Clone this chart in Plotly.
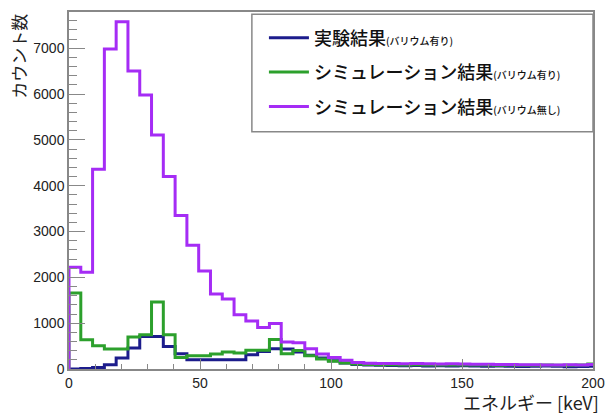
import numpy as np
import plotly.graph_objects as go

bin_width = 4.5  # keV

exp_barium = [0, 10, 35, 94, 240, 457, 710, 710, 492, 333,
              203, 203, 203, 203, 203, 311, 380, 440, 435, 370,
              300, 240, 180, 130, 100, 90, 80, 75, 70, 75,
              65, 70, 65, 70, 65, 60, 65, 60, 55, 60,
              65, 60, 50, 55, 60]
sim_barium = [1656, 638, 508, 436, 436, 697, 747, 1460, 747, 250,
              290, 290, 330, 370, 350, 410, 410, 645, 333, 405,
              290, 220, 170, 130, 110, 100, 95, 95, 90, 95,
              90, 85, 90, 85, 90, 85, 80, 85, 80, 80,
              85, 80, 80, 85, 110]
sim_nobarium = [2220, 2110, 4360, 6980, 7575, 6505, 5980, 5105, 4200, 3350,
                2700, 2140, 1634, 1530, 1183, 1050, 906, 995, 590, 575,
                440, 330, 250, 190, 140, 125, 120, 120, 115, 120,
                115, 110, 115, 110, 105, 105, 100, 100, 95, 95,
                90, 90, 95, 90, 100]

names = ["実験結果<span style='font-size:10px'>(バリウム有り)</span>",
         "シミュレーション結果<span style='font-size:10px'>(バリウム有り)</span>",
         "シミュレーション結果<span style='font-size:10px'>(バリウム無し)</span>"]
colors = ["#1c1c8c", "#2ca02c", "#a52cf5"]

x_title = "エネルギー [keV]"
y_title = "カウント数"
x_ticks = [0, 50, 100, 150, 200]
y_ticks = [0, 1000, 2000, 3000, 4000, 5000, 6000, 7000]

fig = go.Figure()
series = [exp_barium, sim_barium, sim_nobarium]
for i, vals in enumerate(series):
    edges = np.arange(len(vals) + 1) * bin_width
    xs = np.concatenate([[0.0], edges])
    ys = [0] + list(vals) + [vals[-1]]
    fig.add_trace(go.Scatter(x=xs, y=ys, mode="lines", line=dict(shape="hv", color=colors[i], width=3),
                             name=names[i], legendgroup=f"g{i}"))

cjk = "Noto Sans CJK JP"
fig.update_layout(
    width=605, height=414,
    margin=dict(l=69, r=12, t=12, b=45),
    plot_bgcolor="white", paper_bgcolor="white",
    showlegend=True,
    legend=dict(x=0.372, y=0.979, xanchor="left", yanchor="top",
                bgcolor="rgba(0,0,0,0)", borderwidth=0,
                font=dict(family=cjk, size=18, color="#111", weight=500),
                traceorder="grouped", tracegroupgap=8, itemwidth=40),
    xaxis=dict(range=[0, 200], tickvals=x_ticks, ticks="inside", ticklen=10, tickcolor="#888",
               tickwidth=1.2, showline=True, linecolor="#888", linewidth=1.5, mirror=True,
               showgrid=False, zeroline=False, automargin=False,
               minor=dict(dtick=10, ticks="inside", ticklen=5, tickcolor="#888", tickwidth=1.2),
               tickfont=dict(family="Liberation Sans", size=14, color="#222")),
    yaxis=dict(range=[0, 7790], tickvals=y_ticks, ticks="inside", ticklen=16, tickcolor="#888",
               tickwidth=1.2, showline=True, linecolor="#888", linewidth=1.5, mirror=True,
               showgrid=False, zeroline=False, automargin=False,
               minor=dict(dtick=200, ticks="inside", ticklen=8, tickcolor="#888", tickwidth=1.2),
               tickfont=dict(family="Liberation Sans", size=14, color="#222")),
    shapes=[dict(type="rect", xref="paper", yref="paper", x0=0.349, x1=1.0, y0=0.6645, y1=0.994,
                 line=dict(color="#888", width=1.5), fillcolor="rgba(0,0,0,0)")],
    annotations=[
        dict(text=x_title, xref="paper", yref="paper", x=1.016, y=-0.092, xanchor="right", yanchor="middle",
             showarrow=False, font=dict(family=cjk, size=18, color="#222")),
        dict(text=y_title, xref="paper", yref="paper", x=-0.097, y=1.0, xanchor="center", yanchor="top",
             textangle=-90, showarrow=False, font=dict(family=cjk, size=17, color="#222")),
    ],
)

fig.write_html("out.html",
               config={"responsive": False, "displayModeBar": False},
               post_script="document.body.style.margin='0';document.body.style.overflow='hidden';")
